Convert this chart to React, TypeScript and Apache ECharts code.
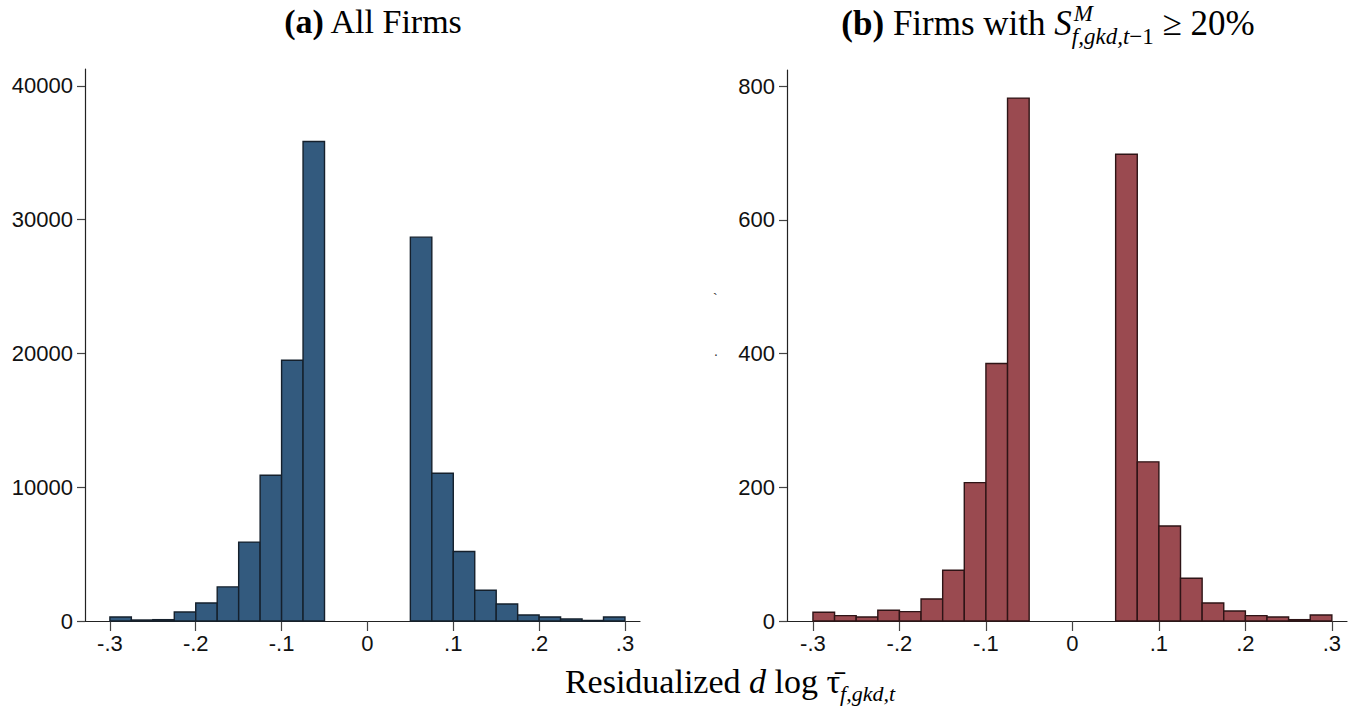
import React, { useEffect, useRef } from "react";
import * as echarts from "echarts";

// Histogram bin edges (width .025)
const binEdges = [
  -0.3, -0.275, -0.25, -0.225, -0.2, -0.175, -0.15, -0.125, -0.1, -0.075, -0.05, -0.025, 0,
  0.025, 0.05, 0.075, 0.1, 0.125, 0.15, 0.175, 0.2, 0.225, 0.25, 0.275, 0.3,
];
// (a) All Firms: frequency per bin
const allFirmsCounts = [
  300, 75, 100, 670, 1350, 2550, 5900, 10900, 19500, 35850, 0, 0, 0, 0,
  28700, 11050, 5200, 2300, 1270, 450, 300, 150, 40, 300,
];
// (b) Firms with S >= 20%: frequency per bin
const highShareCounts = [
  13, 8, 6, 16, 14, 33, 76, 207, 385, 782, 0, 0, 0, 0,
  698, 238, 142, 64, 27, 15, 8, 6, 2, 9,
];
const xTicks = [-0.3, -0.2, -0.1, 0, 0.1, 0.2, 0.3];
const leftYTicks = [0, 10000, 20000, 30000, 40000];
const rightYTicks = [0, 200, 400, 600, 800];

const SERIF = "'Liberation Serif', serif";
const SANS = "'Liberation Sans', Arial, sans-serif";

type Piece = { t: string; size: number; bold?: boolean; italic?: boolean; dy?: number; dx?: number; stackWithNext?: boolean };

function fontStr(p: Piece) {
  return `${p.italic ? "italic " : ""}${p.bold ? "bold " : ""}${p.size}px ${SERIF}`;
}

function layoutPieces(pieces: Piece[], centerX: number, baseline: number) {
  const ctx = document.createElement("canvas").getContext("2d") as CanvasRenderingContext2D;
  const measure = (p: Piece) => {
    ctx.font = fontStr(p);
    return ctx.measureText(p.t).width;
  };
  const items: { p: Piece; x: number }[] = [];
  let x = 0;
  let i = 0;
  while (i < pieces.length) {
    const p = pieces[i];
    if (p.stackWithNext && i + 1 < pieces.length) {
      const q = pieces[i + 1];
      items.push({ p, x });
      items.push({ p: q, x });
      x += Math.max(measure(p), measure(q));
      i += 2;
    } else {
      items.push({ p, x });
      x += measure(p);
      i += 1;
    }
  }
  const start = centerX - x / 2;
  return items.map(({ p, x: ox }) => ({
    type: "text",
    x: start + ox + (p.dx || 0),
    y: baseline + (p.dy || 0) - 0.33 * p.size,
    silent: true,
    style: {
      text: p.t,
      fill: "#000",
      font: fontStr(p),
      align: "left",
      verticalAlign: "middle",
    },
  }));
}

function fmtX(v: number) {
  const r = Math.round(v * 10) / 10;
  if (r === 0) return "0";
  return (r < 0 ? "-" : "") + String(Math.abs(r)).replace(/^0/, "");
}

function histSeries(idx: number, counts: number[], fill: string, stroke: string) {
  return {
    type: "custom",
    xAxisIndex: idx,
    yAxisIndex: idx,
    data: counts.map((c, i) => [binEdges[i], binEdges[i + 1], c]),
    encode: { x: [0, 1], y: 2 },
    renderItem: (_params: any, api: any) => {
      const c = api.value(2);
      if (!c) return null;
      const p0 = api.coord([api.value(0), c]);
      const p1 = api.coord([api.value(1), 0]);
      return {
        type: "rect",
        shape: { x: p0[0], y: p0[1], width: p1[0] - p0[0], height: p1[1] - p0[1] },
        style: { fill, stroke, lineWidth: 1.4 },
      };
    },
  };
}

function xAxisCfg(idx: number, min: number, max: number) {
  return {
    type: "value",
    gridIndex: idx,
    min,
    max,
    axisLine: { show: true, onZero: false, lineStyle: { color: "#222", width: 1.2 } },
    axisTick: { show: true, customValues: xTicks, length: 10, lineStyle: { color: "#444", width: 1.2 } },
    axisLabel: {
      customValues: xTicks,
      formatter: fmtX,
      fontSize: 22,
      color: "#111",
      fontFamily: SANS,
      margin: 11,
    },
    splitLine: { show: false },
  };
}

function yAxisCfg(idx: number, max: number, ticks: number[]) {
  return {
    type: "value",
    gridIndex: idx,
    min: 0,
    max,
    axisLine: { show: true, onZero: false, lineStyle: { color: "#222", width: 1.2 } },
    axisTick: { show: true, customValues: ticks, length: 8, lineStyle: { color: "#444", width: 1.2 } },
    axisLabel: {
      customValues: ticks,
      formatter: (v: number) => String(Math.round(v)),
      fontSize: 22,
      color: "#111",
      fontFamily: SANS,
      margin: 12,
    },
    splitLine: { show: false },
  };
}

export default function App() {
  const ref = useRef<HTMLDivElement>(null);
  useEffect(() => {
    if (!ref.current) return;
    const chart = echarts.init(ref.current, null, { renderer: "svg" });
    const titleA = layoutPieces(
      [
        { t: "(a)", size: 34, bold: true },
        { t: " All Firms", size: 34 },
      ],
      374,
      33
    );
    const titleB = layoutPieces(
      [
        { t: "(b)", size: 35, bold: true },
        { t: " Firms with ", size: 35 },
        { t: "S", size: 35, italic: true },
        { t: "M", size: 23, italic: true, dy: -14, dx: 2, stackWithNext: true },
        { t: "f,gkd,t", size: 23, italic: true, dy: 9 },
        { t: "\u22121", size: 23, dy: 9 },
        { t: " \u2265 20%", size: 35 },
      ],
      1048,
      35
    );
    const xTitle = layoutPieces(
      [
        { t: "Residualized ", size: 34 },
        { t: "d", size: 34, italic: true },
        { t: " log ", size: 34 },
        { t: "\u03C4\u0304", size: 34 },
        { t: "f,gkd,t", size: 22, italic: true, dy: 8 },
      ],
      730,
      693
    );
    chart.setOption({
      animation: false,
      backgroundColor: "#fff",
      grid: [
        { left: 85, right: 717, top: 69, bottom: 85 },
        { left: 787, right: 10, top: 70, bottom: 85 },
      ],
      xAxis: [xAxisCfg(0, -0.329, 0.3175), xAxisCfg(1, -0.33, 0.3175)],
      yAxis: [yAxisCfg(0, 41270, leftYTicks), yAxisCfg(1, 824, rightYTicks)],
      series: [
        histSeries(0, allFirmsCounts, "#335a7e", "#15202c"),
        histSeries(1, highShareCounts, "#9a4a50", "#2e1416"),
      ],
      graphic: [
        ...titleA,
        ...titleB,
        ...xTitle,
        { type: "text", x: 713, y: 292, silent: true, style: { text: "`", font: `14px ${SANS}`, fill: "#333" } },
        { type: "text", x: 714, y: 344, silent: true, style: { text: ".", font: `14px ${SANS}`, fill: "#333" } },
      ],
    });
    return () => chart.dispose();
  }, []);
  return (
    <div
      ref={ref}
      style={{ position: "absolute", left: 0, top: 0, width: 1357, height: 706, background: "#fff" }}
    />
  );
}
